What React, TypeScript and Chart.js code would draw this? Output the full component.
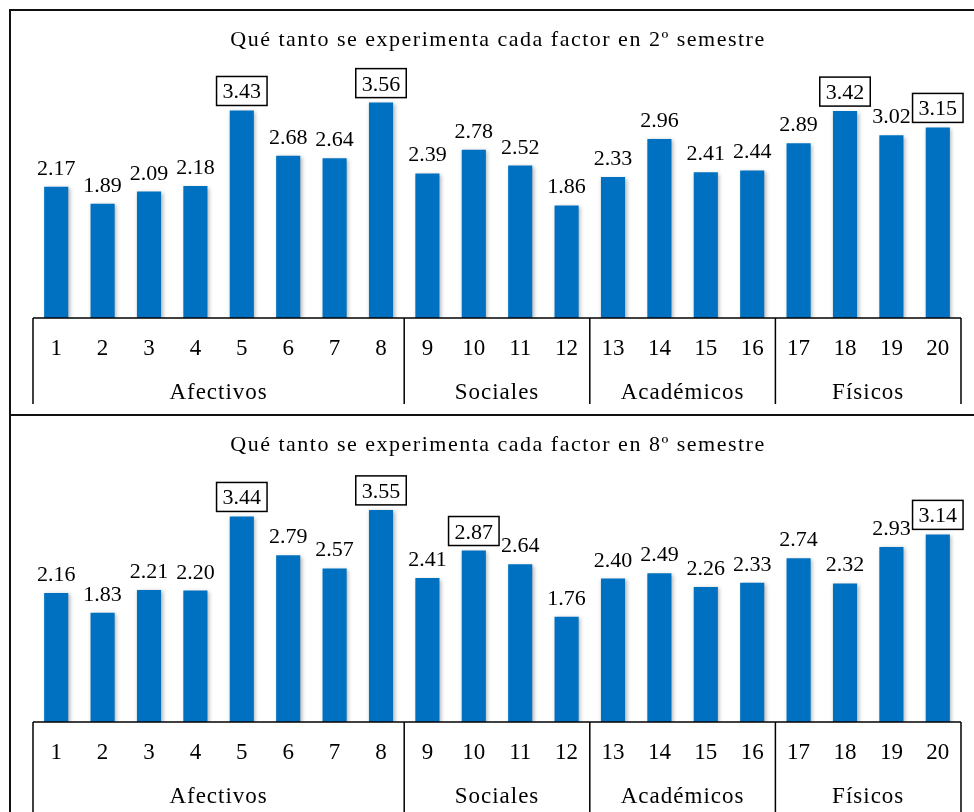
import React, { useEffect, useRef } from 'react';
import { Chart, registerables } from 'chart.js';

Chart.register(...registerables);

const factors = ['1', '2', '3', '4', '5', '6', '7', '8', '9', '10', '11', '12', '13', '14', '15', '16', '17', '18', '19', '20'];
const groups = ['Afectivos', 'Sociales', 'Académicos', 'Físicos'];
const groupSizes = [8, 4, 4, 4];
const values2 = [2.17, 1.89, 2.09, 2.18, 3.43, 2.68, 2.64, 3.56, 2.39, 2.78, 2.52, 1.86, 2.33, 2.96, 2.41, 2.44, 2.89, 3.42, 3.02, 3.15];
const values8 = [2.16, 1.83, 2.21, 2.20, 3.44, 2.79, 2.57, 3.55, 2.41, 2.87, 2.64, 1.76, 2.40, 2.49, 2.26, 2.33, 2.74, 2.32, 2.93, 3.14];
const boxed2 = [5, 8, 18, 20];
const boxed8 = [5, 8, 10, 20];
const title2 = 'Qué tanto se experimenta cada factor en 2º semestre';
const title8 = 'Qué tanto se experimenta cada factor en 8º semestre';

const SERIF = '"Liberation Serif", "Times New Roman", serif';

const shadowPlugin = {
  id: 'barShadow',
  beforeDatasetsDraw(chart: any) {
    const ctx = chart.ctx;
    ctx.save();
    ctx.shadowColor = 'rgba(0,0,0,0.3)';
    ctx.shadowBlur = 4;
    ctx.shadowOffsetX = 1.5;
    ctx.shadowOffsetY = 1.5;
  },
  afterDatasetsDraw(chart: any) {
    chart.ctx.restore();
  },
};

const overlayPlugin = {
  id: 'overlay',
  afterDraw(chart: any) {
    const o = chart.options.plugins.overlay;
    const ctx = chart.ctx;
    const xs = chart.scales.x;
    const H = chart.height;
    const W = chart.width;
    const area = chart.chartArea;
    const n = factors.length;
    const cw = (xs.right - xs.left) / n;
    ctx.save();

    // outer frame
    ctx.strokeStyle = '#111';
    ctx.lineWidth = 2;
    ctx.beginPath();
    ctx.moveTo(10, o.frameTop);
    ctx.lineTo(W, o.frameTop);
    ctx.moveTo(10, o.frameTop - (o.isFirst ? 1 : 11));
    ctx.lineTo(10, H);
    ctx.stroke();

    // title
    ctx.fillStyle = '#000';
    ctx.font = `22px ${SERIF}`;
    ctx.textAlign = 'center';
    ctx.textBaseline = 'alphabetic';
    (ctx as any).letterSpacing = '1.5px';
    ctx.fillText(o.title, W / 2 + 11, o.titleY);
    (ctx as any).letterSpacing = '0px';

    // axis line
    const axisY = area.bottom;
    ctx.strokeStyle = '#000';
    ctx.lineWidth = 1.5;
    ctx.beginPath();
    ctx.moveTo(xs.left, axisY);
    ctx.lineTo(xs.right, axisY);
    ctx.stroke();

    // group dividers and labels
    let start = 0;
    const bounds: number[] = [xs.getPixelForValue(0) - cw / 2];
    groupSizes.forEach((s) => {
      start += s;
      bounds.push(xs.getPixelForValue(start - 1) + cw / 2);
    });
    ctx.beginPath();
    bounds.forEach((bx) => {
      ctx.moveTo(bx, axisY);
      ctx.lineTo(bx, o.divBottom);
    });
    ctx.stroke();

    ctx.font = `23px ${SERIF}`;
    factors.forEach((f, i) => {
      ctx.fillText(f, xs.getPixelForValue(i), axisY + 37);
    });
    (ctx as any).letterSpacing = '1px';
    groups.forEach((g, gi) => {
      const cx = (bounds[gi] + bounds[gi + 1]) / 2;
      ctx.fillText(g, cx, axisY + 81);
    });
    (ctx as any).letterSpacing = '0px';

    // value labels
    const meta = chart.getDatasetMeta(0);
    const vals = chart.data.datasets[0].data;
    ctx.font = `22px ${SERIF}`;
    meta.data.forEach((bar: any, i: number) => {
      const txt = Number(vals[i]).toFixed(2);
      const by = bar.y - 12;
      ctx.fillStyle = '#000';
      ctx.fillText(txt, bar.x, by);
      if (o.boxed.includes(i + 1)) {
        const tw = ctx.measureText(txt).width;
        ctx.lineWidth = 1.5;
        ctx.strokeRect(bar.x - tw / 2 - 6, by - 22, tw + 12, 29);
      }
    });
    ctx.restore();
  },
};

function BarChart({ values, boxed, title, height, padTop, isFirst, divBottom, titleY }: any) {
  const ref = useRef<HTMLCanvasElement>(null);
  useEffect(() => {
    if (!ref.current) return;
    const chart = new Chart(ref.current, {
      type: 'bar',
      data: {
        labels: factors,
        datasets: [
          {
            data: values,
            backgroundColor: '#0070C0',
            borderWidth: 0,
            barPercentage: 0.52,
            categoryPercentage: 1,
          },
        ],
      },
      options: {
        responsive: false,
        animation: false,
        devicePixelRatio: 1,
        layout: { padding: { left: 33, right: 13, top: padTop, bottom: height - 318 } },
        scales: {
          x: { display: false, grid: { display: false } },
          y: { display: false, min: 0, max: 4 },
        },
        plugins: {
          legend: { display: false },
          tooltip: { enabled: false },
          overlay: { title, boxed, titleY, frameTop: isFirst ? 10 : 11, isFirst, divBottom },
        } as any,
      },
      plugins: [shadowPlugin, overlayPlugin],
    });
    return () => chart.destroy();
  }, []);
  return <canvas ref={ref} width={974} height={height} style={{ display: 'block', width: 974, height }} />;
}

export default function App() {
  return (
    <div style={{ position: 'absolute', left: 0, top: 0, width: 974, height: 812, background: '#fff', overflow: 'hidden' }}>
      <BarChart values={values2} boxed={boxed2} title={title2} height={404} padTop={76} isFirst={true} divBottom={404} titleY={46} />
      <BarChart values={values8} boxed={boxed8} title={title8} height={408} padTop={79} isFirst={false} divBottom={408} titleY={47} />
    </div>
  );
}
